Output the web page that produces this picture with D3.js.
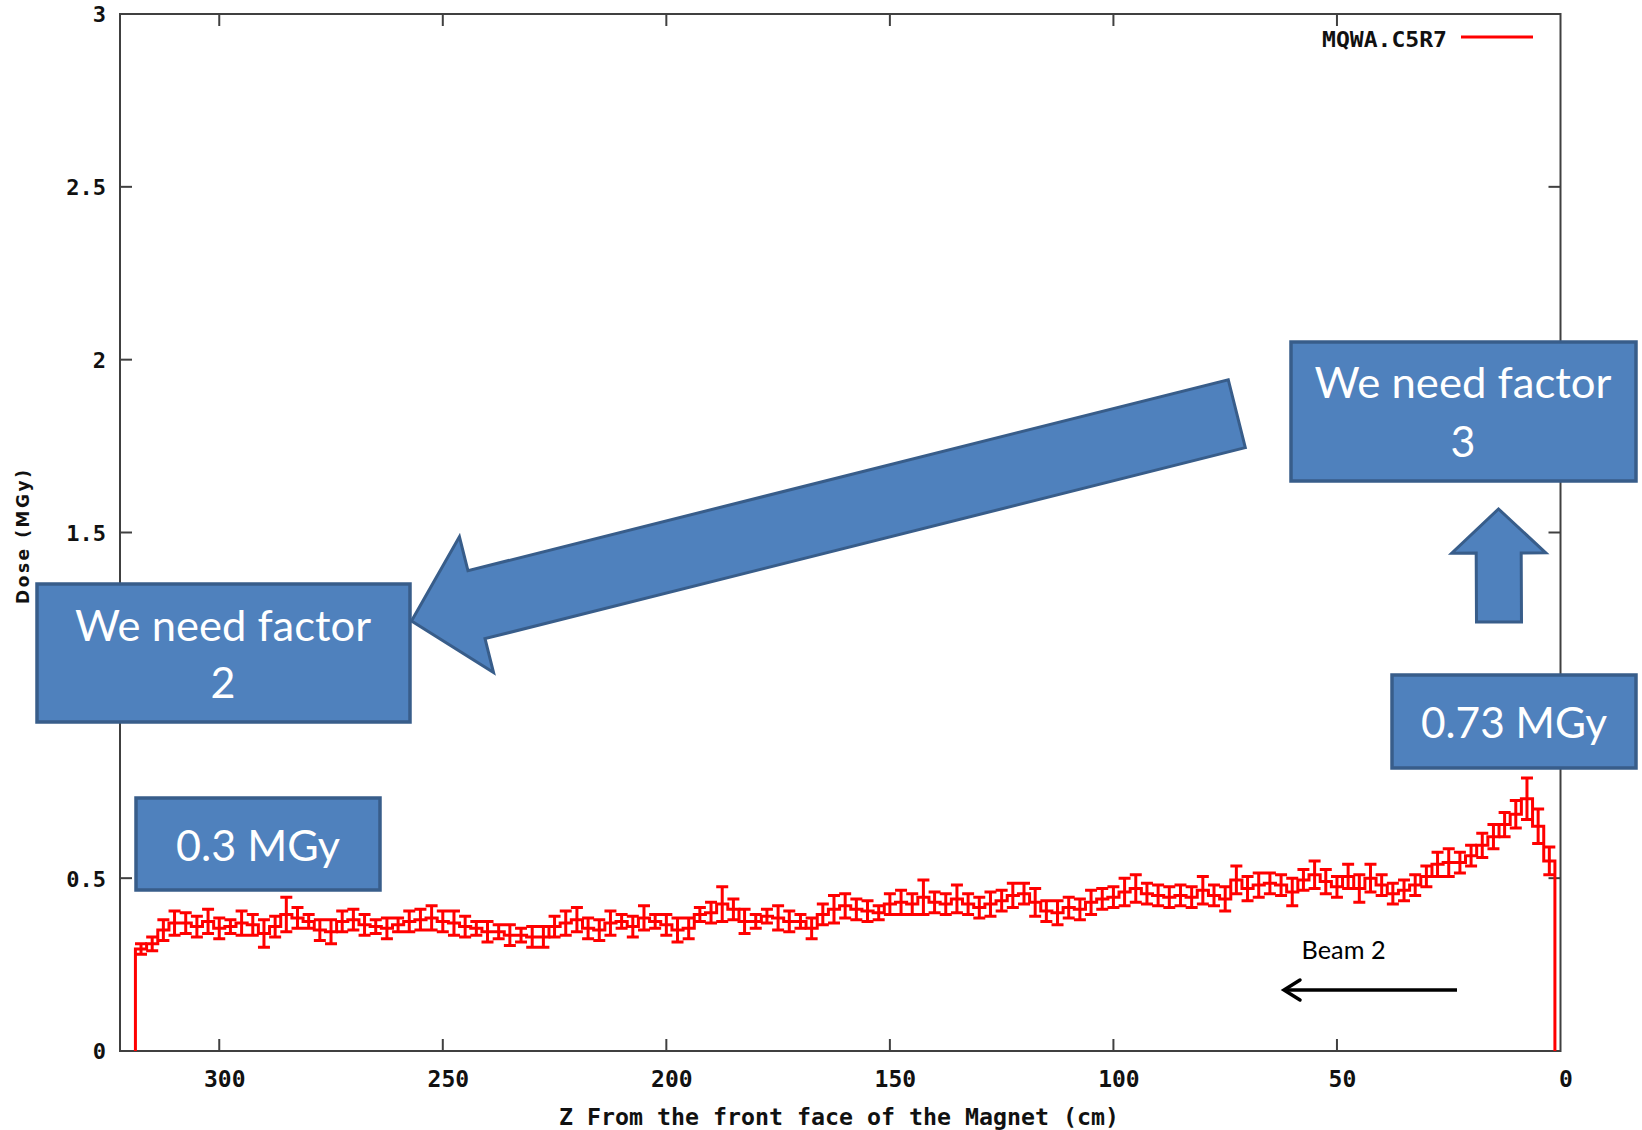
<!DOCTYPE html>
<html>
<head>
<meta charset="utf-8">
<script src="https://cdn.jsdelivr.net/npm/d3@7"></script>
<style>
  html, body { margin: 0; padding: 0; background: #ffffff; }
  svg { display: block; }
</style>
</head>
<body>
<svg id="chart" width="1642" height="1130"></svg>
<script>
// Bin centres along the magnet (cm from the front face)
const zCenters = [
  2.5,5,7.5,10,12.5,15,17.5,20,22.5,25,27.5,30,32.5,35,37.5,40,42.5,45,47.5,50,
  52.5,55,57.5,60,62.5,65,67.5,70,72.5,75,77.5,80,82.5,85,87.5,90,92.5,95,97.5,100,
  102.5,105,107.5,110,112.5,115,117.5,120,122.5,125,127.5,130,132.5,135,137.5,140,142.5,145,147.5,150,
  152.5,155,157.5,160,162.5,165,167.5,170,172.5,175,177.5,180,182.5,185,187.5,190,192.5,195,197.5,200,
  202.5,205,207.5,210,212.5,215,217.5,220,222.5,225,227.5,230,232.5,235,237.5,240,242.5,245,247.5,250,
  252.5,255,257.5,260,262.5,265,267.5,270,272.5,275,277.5,280,282.5,285,287.5,290,292.5,295,297.5,300,
  302.5,305,307.5,310,312.5,315,317.5
];

// Dose per bin (MGy), MQWA.C5R7
const dose = [
  0.55,0.65,0.73,0.685,0.655,0.62,0.595,0.565,0.545,0.545,0.54,0.505,0.48,0.465,0.455,0.48,0.50,0.47,0.505,0.475,
  0.49,0.51,0.495,0.46,0.48,0.485,0.48,0.47,0.495,0.44,0.45,0.465,0.445,0.45,0.445,0.45,0.455,0.47,0.46,0.445,
  0.44,0.43,0.41,0.415,0.40,0.405,0.43,0.455,0.45,0.435,0.425,0.415,0.425,0.44,0.425,0.43,0.445,0.425,0.43,0.425,
  0.40,0.405,0.41,0.42,0.41,0.395,0.355,0.375,0.375,0.385,0.39,0.375,0.375,0.41,0.425,0.40,0.395,0.355,0.35,0.365,
  0.375,0.385,0.36,0.375,0.37,0.35,0.355,0.38,0.37,0.36,0.33,0.33,0.335,0.335,0.345,0.345,0.355,0.36,0.37,0.375,
  0.385,0.38,0.375,0.365,0.355,0.36,0.365,0.38,0.375,0.345,0.35,0.375,0.385,0.395,0.36,0.34,0.365,0.37,0.36,0.355,
  0.375,0.36,0.37,0.37,0.35,0.31,0.295
];

// Statistical uncertainty per bin (MGy)
const doseErr = [
  0.04,0.05,0.06,0.04,0.035,0.035,0.035,0.03,0.03,0.04,0.035,0.03,0.03,0.03,0.03,0.03,0.04,0.04,0.035,0.03,
  0.035,0.04,0.03,0.04,0.03,0.03,0.035,0.035,0.04,0.035,0.03,0.04,0.03,0.03,0.03,0.03,0.03,0.04,0.04,0.03,
  0.03,0.035,0.03,0.03,0.035,0.03,0.04,0.03,0.035,0.03,0.035,0.03,0.03,0.04,0.03,0.03,0.05,0.03,0.035,0.03,
  0.02,0.03,0.03,0.035,0.04,0.03,0.03,0.02,0.03,0.035,0.02,0.02,0.035,0.03,0.05,0.03,0.02,0.03,0.035,0.03,
  0.02,0.035,0.03,0.02,0.035,0.03,0.03,0.035,0.035,0.03,0.03,0.03,0.02,0.03,0.02,0.03,0.02,0.03,0.035,0.03,
  0.035,0.03,0.03,0.02,0.03,0.02,0.03,0.03,0.03,0.035,0.03,0.02,0.03,0.05,0.03,0.04,0.03,0.035,0.02,0.03,
  0.035,0.03,0.03,0.035,0.03,0.02,0.015
];

const xTicks = [0, 50, 100, 150, 200, 250, 300];
const xTickLabels = ["0", "50", "100", "150", "200", "250", "300"];
const yTicks = [0, 0.5, 1, 1.5, 2, 2.5, 3];
const yTickLabels = ["0", "0.5", "1", "1.5", "2", "2.5", "3"];
const seriesName = "MQWA.C5R7";
const xTitle = "Z From the front face of the Magnet (cm)";
const yTitle = "Dose (MGy)";
const beamLabel = "Beam 2";
const calloutFactorLeft = ["We need factor", "2"];
const calloutFactorRight = ["We need factor", "3"];
const calloutPeak = "0.73 MGy";
const calloutFlat = "0.3 MGy";

const svg = d3.select("#chart");
const W = 1642, H = 1130;
svg.append("rect").attr("width", W).attr("height", H).attr("fill", "#ffffff");

const plot = { left: 120, right: 1560.5, top: 14, bottom: 1051 };
const x = d3.scaleLinear().domain([322.2, 0]).range([plot.left, plot.right]);
const y = d3.scaleLinear().domain([0, 3]).range([plot.bottom, plot.top]);

const axisColor = "#404040";
const tickFont = "'DejaVu Sans Mono', monospace";
const tickLen = 12;

// Frame (gnuplot-style border on all four sides)
svg.append("rect")
  .attr("x", plot.left).attr("y", plot.top)
  .attr("width", plot.right - plot.left).attr("height", plot.bottom - plot.top)
  .attr("fill", "none").attr("stroke", axisColor).attr("stroke-width", 2);

// Bottom axis with inward ticks, mirrored on the top edge
const xAxis = d3.axisBottom(x).tickValues(xTicks).tickSize(0).tickFormat((d, i) => xTickLabels[i]);
const gx = svg.append("g").attr("transform", `translate(0,${plot.bottom})`).call(xAxis);
gx.select(".domain").remove();
gx.selectAll("text")
  .attr("dy", null).attr("y", 36).attr("x", 5)
  .attr("font-family", tickFont).attr("font-weight", "bold").attr("font-size", 23)
  .attr("fill", "#111");
const xTickG = svg.append("g").attr("stroke", axisColor).attr("stroke-width", 2);
xTicks.forEach(t => {
  if (t === 0) return;
  xTickG.append("line").attr("x1", x(t)).attr("x2", x(t)).attr("y1", plot.bottom).attr("y2", plot.bottom - tickLen);
  xTickG.append("line").attr("x1", x(t)).attr("x2", x(t)).attr("y1", plot.top).attr("y2", plot.top + tickLen);
});

// Left axis with inward ticks, mirrored on the right edge
const yAxis = d3.axisLeft(y).tickValues(yTicks).tickSize(0).tickFormat((d, i) => yTickLabels[i]);
const gy = svg.append("g").attr("transform", `translate(${plot.left},0)`).call(yAxis);
gy.select(".domain").remove();
gy.selectAll("text")
  .attr("x", -14).attr("dy", "0.36em")
  .attr("font-family", tickFont).attr("font-weight", "bold").attr("font-size", 22)
  .attr("fill", "#111");
const yTickG = svg.append("g").attr("stroke", axisColor).attr("stroke-width", 2);
yTicks.forEach(t => {
  if (t === 0 || t === 3) return;
  yTickG.append("line").attr("x1", plot.left).attr("x2", plot.left + tickLen).attr("y1", y(t)).attr("y2", y(t));
  yTickG.append("line").attr("x1", plot.right).attr("x2", plot.right - tickLen).attr("y1", y(t)).attr("y2", y(t));
});

// Axis titles
svg.append("text")
  .attr("x", 839).attr("y", 1125)
  .attr("text-anchor", "middle")
  .attr("font-family", tickFont).attr("font-weight", "bold").attr("font-size", 23)
  .attr("textLength", 560).attr("lengthAdjust", "spacingAndGlyphs")
  .attr("fill", "#111")
  .text(xTitle);

svg.append("text")
  .attr("transform", "translate(29,537) rotate(-90)")
  .attr("text-anchor", "middle")
  .attr("font-family", "'DejaVu Sans', sans-serif").attr("font-weight", "bold").attr("font-size", 17)
  .attr("textLength", 134).attr("lengthAdjust", "spacing")
  .attr("fill", "#111")
  .text(yTitle);

// Histogram steps (bin edges at midpoints between centres, closed to zero at both ends)
const n = zCenters.length;
const lowEdge = zCenters.map((z, i) => i === 0 ? z - (zCenters[1] - z) / 2 : (zCenters[i - 1] + z) / 2);
const highEdge = zCenters.map((z, i) => i === n - 1 ? z + (z - zCenters[n - 2]) / 2 : (z + zCenters[i + 1]) / 2);
const verts = [[lowEdge[0], 0]];
zCenters.forEach((z, i) => {
  verts.push([lowEdge[i], dose[i]]);
  verts.push([highEdge[i], dose[i]]);
});
verts.push([highEdge[n - 1], 0]);

const red = "#ff0000";
const lineW = 3;
svg.append("path")
  .attr("d", d3.line().x(d => x(d[0])).y(d => y(d[1]))(verts))
  .attr("fill", "none").attr("stroke", red).attr("stroke-width", lineW)
  .attr("stroke-linejoin", "miter");

// Error bars at bin centres
const capHalf = 6;
const errPath = d3.path();
zCenters.forEach((z, i) => {
  const cx = x(z), y0 = y(dose[i] - doseErr[i]), y1 = y(dose[i] + doseErr[i]);
  errPath.moveTo(cx, y0); errPath.lineTo(cx, y1);
  errPath.moveTo(cx - capHalf, y1); errPath.lineTo(cx + capHalf, y1);
  errPath.moveTo(cx - capHalf, y0); errPath.lineTo(cx + capHalf, y0);
});
svg.append("path")
  .attr("d", errPath.toString())
  .attr("fill", "none").attr("stroke", red).attr("stroke-width", lineW);

// Legend
svg.append("text")
  .attr("x", 1447).attr("y", 47)
  .attr("text-anchor", "end")
  .attr("font-family", tickFont).attr("font-weight", "bold").attr("font-size", 21)
  .attr("textLength", 125).attr("lengthAdjust", "spacingAndGlyphs")
  .attr("fill", "#111")
  .text(seriesName);
svg.append("line")
  .attr("x1", 1461).attr("x2", 1533).attr("y1", 37).attr("y2", 37)
  .attr("stroke", red).attr("stroke-width", 3);

// Annotation layer: callout boxes and block arrows
const boxFill = "#4f81bd", boxStroke = "#385d8a";
const noteFont = "Lato, 'Open Sans', sans-serif";
const notes = svg.append("g");

function blockArrow(tail, tip, sw, hw, hl) {
  const dx = tip[0] - tail[0], dy = tip[1] - tail[1], L = Math.hypot(dx, dy);
  const ux = dx / L, uy = dy / L, nx = -uy, ny = ux;
  const P = (a, b) => [tail[0] + ux * a + nx * b, tail[1] + uy * a + ny * b];
  return [P(0, -sw / 2), P(L - hl, -sw / 2), P(L - hl, -hw / 2), P(L, 0),
          P(L - hl, hw / 2), P(L - hl, sw / 2), P(0, sw / 2)];
}
function drawArrow(pts) {
  notes.append("polygon")
    .attr("points", pts.map(p => p.join(",")).join(" "))
    .attr("fill", boxFill).attr("stroke", boxStroke).attr("stroke-width", 3)
    .attr("stroke-linejoin", "miter");
}
function drawBox(x0, y0, x1, y1) {
  notes.append("rect")
    .attr("x", x0).attr("y", y0).attr("width", x1 - x0).attr("height", y1 - y0)
    .attr("fill", boxFill).attr("stroke", boxStroke).attr("stroke-width", 3.5);
}
function drawNote(str, cx, baseline, size, width, color) {
  notes.append("text")
    .attr("x", cx).attr("y", baseline)
    .attr("text-anchor", "middle")
    .attr("font-family", noteFont).attr("font-size", size)
    .attr("textLength", width).attr("lengthAdjust", "spacingAndGlyphs")
    .attr("fill", color)
    .text(str);
}

// Long arrow from the right-hand callout towards the left-hand one
drawArrow(blockArrow([1236.8, 413.7], [411.5, 621], 70, 140, 67));
// Short upward arrow above the peak callout
drawArrow(blockArrow([1499, 622], [1498.5, 509], 45, 94, 44));

drawBox(1291, 342, 1636, 481);
drawNote(calloutFactorRight[0], 1463, 398, 43, 297, "#ffffff");
drawNote(calloutFactorRight[1], 1463, 457, 43, null, "#ffffff");

drawBox(37, 584, 410, 722);
drawNote(calloutFactorLeft[0], 223, 641, 43, 296, "#ffffff");
drawNote(calloutFactorLeft[1], 223, 698, 43, null, "#ffffff");

drawBox(1392, 675, 1636, 768);
drawNote(calloutPeak, 1514, 738, 43, 186, "#ffffff");

drawBox(136, 798, 380, 890);
drawNote(calloutFlat, 258, 861, 43, 164, "#ffffff");

// Beam direction
drawNote(beamLabel, 1343.6, 959, 25, 84, "#000000");
notes.append("line")
  .attr("x1", 1457).attr("x2", 1284).attr("y1", 990).attr("y2", 990)
  .attr("stroke", "#000").attr("stroke-width", 3.5);
notes.append("polyline")
  .attr("points", "1300,980 1284,990 1300,1000")
  .attr("fill", "none").attr("stroke", "#000").attr("stroke-width", 3.5)
  .attr("stroke-linecap", "round").attr("stroke-linejoin", "miter");
</script>
</body>
</html>
